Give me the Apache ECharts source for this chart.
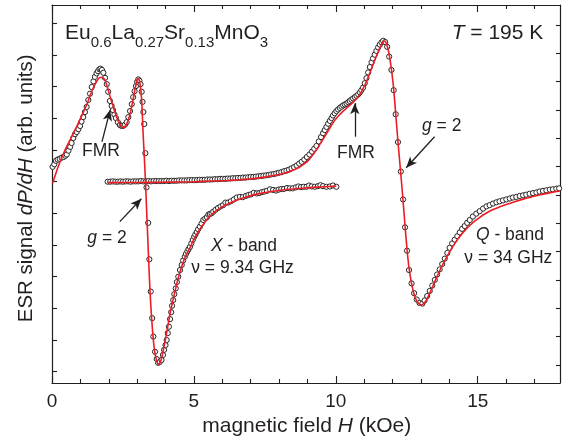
<!DOCTYPE html>
<html><head><meta charset="utf-8">
<script src="https://cdn.jsdelivr.net/npm/echarts@6/dist/echarts.min.js"></script>
<style>html,body{margin:0;padding:0;background:#fff}#c{width:563px;height:444px}</style>
</head><body><div id="c"></div>
<script>
// ---- X-band (9.34 GHz) measured ESR signal ----
const xbandField = [0.02,0.08,0.14,0.20,0.27,0.34,0.41,0.47,0.52,0.58,0.64,0.69,0.75,0.81,0.87,0.93,0.99,1.04,1.10,1.16,1.22,1.28,1.34,1.40,1.46,1.51,1.57,1.62,1.67,1.71,1.76,1.81,1.87,1.93,1.98,2.04,2.10,2.15,2.20,2.25,2.32,2.39,2.45,2.50,2.57,2.63,2.69,2.75,2.81,2.86,2.91,2.96,3.00,3.04,3.08,3.12,3.16,3.19,3.22,3.25,3.29,3.33,3.39,3.43,3.48,3.53,3.57,3.63,3.69,3.74,3.80,3.86,3.91,3.95,4.00,4.04,4.08,4.12,4.16,4.20,4.23,4.27,4.31,4.36,4.40,4.45,4.51,4.57,4.62,4.68,4.72,4.77,4.81,4.86,4.91,4.96,5.01,5.05,5.10,5.15,5.21,5.27,5.33,5.40,5.46,5.51,5.56,5.62,5.68,5.76,5.85,5.94,6.03,6.11,6.20,6.30,6.41,6.51,6.62,6.72,6.83,6.92,7.01,7.11,7.21,7.30,7.39,7.48,7.57,7.68,7.79,7.89,7.99,8.08,8.17,8.28,8.38,8.48,8.59,8.68,8.77,8.87,8.97,9.06,9.15,9.26,9.37,9.46,9.55,9.67,9.79,9.90,10.02];
const xbandSignal = [6.47,6.55,6.66,6.70,6.72,6.76,6.78,6.82,6.86,6.98,7.10,7.22,7.38,7.50,7.57,7.66,7.76,7.90,8.04,8.20,8.36,8.58,8.78,8.99,9.17,9.31,9.42,9.49,9.55,9.57,9.53,9.44,9.28,9.08,8.84,8.55,8.39,8.26,8.12,8.01,7.88,7.79,7.76,7.76,7.80,7.88,8.04,8.23,8.45,8.67,8.86,9.02,9.15,9.23,9.19,9.08,8.84,8.52,8.20,7.82,6.90,5.82,4.70,3.55,2.53,1.69,1.11,0.63,0.40,0.28,0.31,0.37,0.53,0.69,0.84,1.00,1.22,1.42,1.66,1.88,2.08,2.26,2.45,2.63,2.83,3.00,3.21,3.37,3.51,3.63,3.72,3.80,3.87,3.94,4.05,4.16,4.26,4.33,4.41,4.50,4.58,4.68,4.79,4.84,4.88,4.96,4.98,5.00,5.05,5.11,5.17,5.22,5.26,5.34,5.34,5.38,5.44,5.50,5.52,5.51,5.55,5.58,5.60,5.65,5.63,5.64,5.67,5.69,5.71,5.76,5.74,5.72,5.75,5.77,5.77,5.80,5.79,5.79,5.82,5.85,5.83,5.84,5.84,5.88,5.85,5.84,5.86,5.89,5.86,5.84,5.85,5.88,5.84];
// ---- X-band fit ----
const xbandFitField = [0.02,0.15,0.28,0.46,0.67,0.87,1.06,1.22,1.34,1.45,1.58,1.69,1.76,1.85,1.94,2.04,2.16,2.28,2.39,2.51,2.61,2.71,2.82,2.92,2.99,3.02,3.06,3.10,3.16,3.21,3.27,3.32,3.37,3.42,3.47,3.54,3.61,3.68,3.75,3.82,3.89,3.98,4.07,4.15,4.24,4.33,4.42,4.51,4.60,4.68,4.77,4.86,5.00,5.21,5.45,5.67,5.95,6.27,6.70,7.18,7.80,8.38,9.20,10.02];
const xbandFitSignal = [5.95,6.30,6.62,7.00,7.38,7.74,8.11,8.42,8.71,8.95,9.18,9.29,9.29,9.23,9.02,8.71,8.36,8.04,7.82,7.70,7.79,8.01,8.42,8.89,9.19,9.26,9.24,9.11,8.58,7.53,6.47,5.42,4.32,3.21,2.26,1.32,0.69,0.37,0.23,0.31,0.53,0.94,1.38,1.79,2.17,2.52,2.86,3.15,3.40,3.59,3.76,3.91,4.18,4.50,4.80,5.00,5.18,5.33,5.48,5.60,5.70,5.76,5.82,5.86];
// ---- Q-band (34 GHz) measured ESR signal ----
const qbandField = [1.96,2.05,2.14,2.23,2.32,2.41,2.50,2.59,2.68,2.77,2.86,2.95,3.04,3.13,3.22,3.31,3.40,3.49,3.58,3.67,3.76,3.85,3.94,4.03,4.12,4.21,4.30,4.39,4.48,4.57,4.66,4.75,4.84,4.93,5.02,5.11,5.20,5.29,5.38,5.47,5.56,5.65,5.74,5.83,5.92,6.01,6.10,6.19,6.28,6.37,6.46,6.55,6.64,6.73,6.82,6.91,7.00,7.09,7.18,7.27,7.36,7.45,7.54,7.63,7.72,7.81,7.90,7.99,8.08,8.17,8.26,8.35,8.44,8.53,8.62,8.71,8.80,8.89,8.98,9.07,9.16,9.24,9.32,9.40,9.48,9.55,9.61,9.67,9.73,9.79,9.85,9.90,9.96,10.02,10.08,10.14,10.20,10.26,10.32,10.38,10.44,10.49,10.55,10.61,10.67,10.73,10.79,10.85,10.90,10.96,11.02,11.08,11.14,11.20,11.26,11.31,11.37,11.43,11.49,11.55,11.61,11.67,11.74,11.81,11.88,11.96,12.04,12.11,12.19,12.29,12.37,12.44,12.51,12.58,12.67,12.76,12.85,12.95,13.05,13.13,13.22,13.31,13.40,13.49,13.57,13.66,13.75,13.84,13.93,14.01,14.10,14.19,14.28,14.37,14.45,14.54,14.63,14.72,14.83,14.95,15.07,15.19,15.31,15.42,15.54,15.66,15.77,15.89,16.01,16.13,16.24,16.36,16.48,16.60,16.71,16.83,16.95,17.07,17.18,17.30,17.42,17.54,17.65,17.77,17.87];
const qbandSignal = [6.00,6.00,6.01,6.00,6.00,6.01,6.00,6.01,6.01,6.00,6.01,6.01,6.01,6.02,6.01,6.01,6.02,6.01,6.02,6.02,6.02,6.02,6.02,6.03,6.02,6.03,6.03,6.03,6.04,6.04,6.04,6.04,6.05,6.05,6.05,6.05,6.06,6.06,6.06,6.07,6.07,6.07,6.08,6.08,6.09,6.09,6.09,6.10,6.10,6.11,6.11,6.12,6.12,6.13,6.13,6.14,6.15,6.15,6.16,6.17,6.18,6.19,6.20,6.21,6.23,6.24,6.26,6.28,6.30,6.33,6.35,6.38,6.42,6.46,6.51,6.57,6.63,6.70,6.78,6.86,6.95,7.04,7.13,7.27,7.41,7.53,7.63,7.73,7.83,7.92,8.01,8.09,8.16,8.23,8.28,8.33,8.37,8.41,8.44,8.47,8.51,8.55,8.59,8.63,8.67,8.71,8.76,8.82,8.89,8.97,9.11,9.27,9.45,9.62,9.77,9.89,10.01,10.13,10.24,10.33,10.40,10.45,10.41,10.26,9.95,9.53,8.89,8.13,7.25,6.32,5.44,4.56,3.82,3.21,2.79,2.48,2.28,2.17,2.15,2.25,2.39,2.55,2.72,2.90,3.07,3.23,3.40,3.57,3.75,3.91,4.05,4.17,4.28,4.40,4.51,4.60,4.70,4.79,4.90,4.99,5.07,5.15,5.22,5.26,5.31,5.35,5.38,5.41,5.44,5.47,5.50,5.52,5.55,5.57,5.59,5.62,5.64,5.66,5.69,5.71,5.73,5.75,5.76,5.78,5.79];
// ---- Q-band fit ----
const qbandFitField = [1.96,3.00,4.00,5.00,5.60,6.20,6.60,7.00,7.30,7.60,7.90,8.10,8.30,8.50,8.70,8.90,9.05,9.20,9.35,9.50,9.65,9.80,9.95,10.10,10.25,10.40,10.55,10.70,10.85,10.95,11.05,11.15,11.25,11.35,11.45,11.55,11.62,11.68,11.72,11.76,11.80,11.84,11.88,11.92,11.97,12.04,12.11,12.19,12.29,12.37,12.44,12.51,12.58,12.67,12.76,12.85,12.95,13.02,13.10,13.16,13.22,13.30,13.40,13.50,13.60,13.70,13.80,13.90,14.00,14.10,14.20,14.30,14.45,14.60,14.75,14.90,15.05,15.25,15.45,15.70,16.00,16.30,16.60,16.90,17.20,17.50,17.89];
const qbandFitSignal = [5.97,5.975,5.985,6.00,6.02,6.04,6.06,6.09,6.12,6.16,6.21,6.25,6.30,6.37,6.45,6.57,6.69,6.86,7.05,7.27,7.49,7.71,7.92,8.08,8.22,8.34,8.46,8.59,8.76,8.92,9.10,9.32,9.55,9.79,10.01,10.22,10.35,10.43,10.44,10.41,10.32,10.19,10.02,9.80,9.48,8.92,8.15,7.27,6.25,5.40,4.60,3.86,3.28,2.78,2.44,2.24,2.13,2.11,2.15,2.22,2.31,2.46,2.66,2.87,3.07,3.26,3.44,3.61,3.77,3.92,4.06,4.19,4.36,4.51,4.64,4.76,4.86,4.98,5.08,5.18,5.28,5.37,5.45,5.52,5.59,5.64,5.71];
// ---- axis ticks ----
const fieldTickLabels = [0, 5, 10, 15];
const fieldMinorTicks = [1,2,3,4,6,7,8,9,11,12,13,14,16,17];
const signalLeftTicks = [0,1,2,3,4,5,6,7,8,9,10,11];
const signalRightTicks = [0,1,2,3,4,5,6,7,8,9,10,11,12];
// ---- annotation arrows (data coords: [field, signal]) ----
const arrowXFmr = [[1.76, 7.26], [2.05, 8.27]];
const arrowXg2 = [[2.39, 4.74], [3.15, 5.46]];
const arrowQFmr = [[10.67, 7.42], [10.67, 8.48]];
const arrowQg2 = [[13.48, 7.42], [12.48, 6.44]];

const zip = (a, b) => a.map((x, i) => [x, b[i]]);
const FONT = '"Liberation Sans", Arial, Helvetica, sans-serif';
const INK = '#231f20';
const RED = '#ed1c24';

const chart = echarts.init(document.getElementById('c'), null, {renderer: 'canvas'});
const rect = {left: 52, right: 3, top: 5, bottom: 61};

function xAx(grid, pos, ticks, len, showLine, labels) {
  return {
    gridIndex: grid, type: 'value', position: pos, min: 0, max: 17.9,
    axisLine: {show: showLine, onZero: false, lineStyle: {color: INK, width: 1.2}},
    axisTick: {show: true, inside: true, length: len, customValues: ticks, lineStyle: {color: INK, width: 1.1}},
    axisLabel: labels ? {show: true, customValues: ticks, fontSize: 19, color: INK, fontFamily: FONT, margin: 9} : {show: false},
    splitLine: {show: false}
  };
}

function txt(x, y, text, size, extra) {
  return Object.assign({
    type: 'text', x: x, y: y, silent: true,
    style: {
      text: text, fontSize: size, fontFamily: FONT, fill: INK,
      textAlign: 'center', textVerticalAlign: 'middle',
      rich: {
        i: {fontSize: size, fontFamily: FONT, fontStyle: 'italic', fill: INK},
        m: {fontSize: size, fontFamily: FONT, fill: INK}
      }
    }
  }, extra || {});
}

const arrowLine = (a) => [{coord: a[0]}, {coord: a[1]}];
const circleStyle = {color: '#ffffff', borderColor: '#262626', borderWidth: 1, opacity: 1};

const option = {
  animation: false,
  backgroundColor: '#fff',
  grid: [Object.assign({}, rect), Object.assign({}, rect)],
  xAxis: [
    xAx(0, 'bottom', fieldTickLabels, 7, true, true),
    xAx(0, 'top', fieldTickLabels, 7, true, false),
    xAx(1, 'bottom', fieldMinorTicks, 4, false, false),
    xAx(1, 'top', fieldMinorTicks, 4, false, false)
  ],
  yAxis: [
    {gridIndex: 0, type: 'value', position: 'left', min: -0.357, max: 11.58,
     axisLine: {show: true, onZero: false, lineStyle: {color: INK, width: 1.2}},
     axisTick: {show: true, inside: true, length: 5, customValues: signalLeftTicks, lineStyle: {color: INK, width: 1.1}},
     axisLabel: {show: false}, splitLine: {show: false}},
    {gridIndex: 0, type: 'value', position: 'right', min: -0.635, max: 12.707,
     axisLine: {show: true, onZero: false, lineStyle: {color: INK, width: 1.2}},
     axisTick: {show: true, inside: true, length: 4, customValues: signalRightTicks, lineStyle: {color: INK, width: 1.1}},
     axisLabel: {show: false}, splitLine: {show: false}},
    {gridIndex: 1, type: 'value', show: false, min: 0, max: 1}
  ],
  series: [
    {type: 'scatter', name: 'X-band', xAxisIndex: 0, yAxisIndex: 0, z: 2, silent: true,
     data: zip(xbandField, xbandSignal), symbol: 'circle', symbolSize: 5.2, itemStyle: circleStyle},
    {type: 'scatter', name: 'Q-band', xAxisIndex: 0, yAxisIndex: 0, z: 2, silent: true,
     data: zip(qbandField, qbandSignal), symbol: 'circle', symbolSize: 5.2, itemStyle: circleStyle},
    {type: 'line', name: 'X-band fit', xAxisIndex: 0, yAxisIndex: 0, z: 3, silent: true,
     data: zip(xbandFitField, xbandFitSignal), showSymbol: false, smooth: 0.2,
     lineStyle: {color: RED, width: 1.6}},
    {type: 'line', name: 'Q-band fit', xAxisIndex: 0, yAxisIndex: 0, z: 3, silent: true,
     data: zip(qbandFitField, qbandFitSignal), showSymbol: false, smooth: 0.2,
     lineStyle: {color: RED, width: 1.6}},
    {type: 'line', name: 'arrows', xAxisIndex: 0, yAxisIndex: 0, z: 4, data: [], silent: true,
     markLine: {silent: true, animation: false, symbol: ['none', 'arrow'], symbolSize: [7, 11],
       lineStyle: {color: INK, width: 1.3, type: 'solid'}, label: {show: false},
       emphasis: {disabled: true},
       data: [arrowLine(arrowXFmr), arrowLine(arrowXg2), arrowLine(arrowQFmr), arrowLine(arrowQg2)]}}
  ],
  graphic: [
    {type: 'text', x: 65, y: 33, silent: true,
     style: {text: '{m|Eu}{s|0.6}{m|La}{s|0.27}{m|Sr}{s|0.13}{m|MnO}{s|3}', textAlign: 'left', textVerticalAlign: 'middle',
       fontFamily: FONT, fontSize: 21, fill: INK,
       rich: {m: {fontSize: 21, fontFamily: FONT, fill: INK, verticalAlign: 'middle'},
              s: {fontSize: 15, fontFamily: FONT, fill: INK, verticalAlign: 'middle', padding: [19, 0, 0, 0]}}}},
    txt(497.5, 33, '{i|T}{m| = 195 K}', 21),
    txt(101, 151, 'FMR', 17.5),
    txt(107, 238, '{i|g}{m| = 2}', 17.5),
    txt(244, 246.5, '{i|X}{m| - band}', 17.5),
    txt(242.5, 268.3, 'ν = 9.34 GHz', 17.5),
    txt(356, 153.5, 'FMR', 17.5),
    txt(441.7, 126, '{i|g}{m| = 2}', 17.5),
    txt(510, 235.5, '{i|Q}{m| - band}', 17.5),
    txt(508.3, 258.3, 'ν = 34 GHz', 17.5),
    txt(306.7, 426, '{m|magnetic field }{i|H}{m| (kOe)}', 21),
    txt(26, 188.4, '{m|ESR signal }{i|dP/dH}{m| (arb. units)}', 20.5, {rotation: Math.PI / 2})
  ]
};
chart.setOption(option);
</script>
</body></html>
